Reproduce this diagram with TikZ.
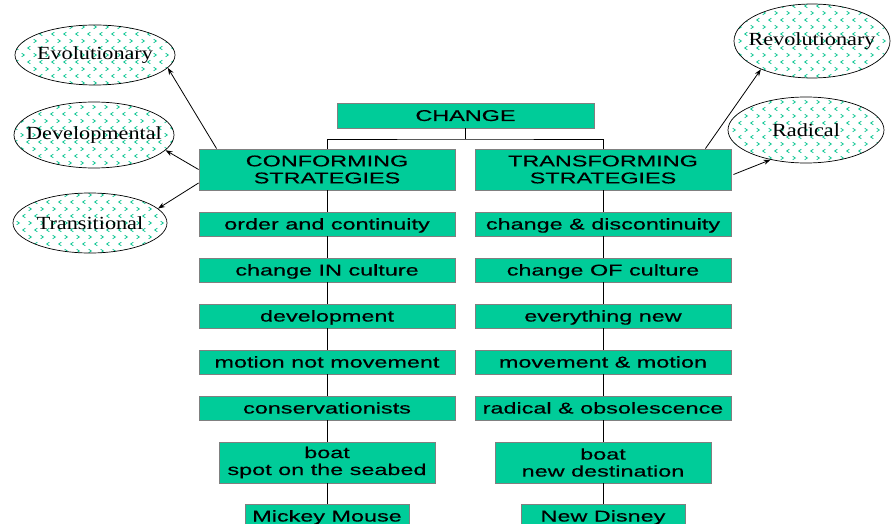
\documentclass[tikz,border=0pt]{standalone}
\usepackage{fontspec}
\usetikzlibrary{shapes.geometric,arrows.meta,calc}
\newfontfamily\boxfont[FakeStretch=1.5,FakeBold=0.3]{Liberation Sans}
\newfontfamily\ellfont[FakeStretch=1.2]{Liberation Serif}
\definecolor{boxgreen}{RGB}{0,204,153}
\definecolor{boxborder}{RGB}{128,128,128}
\definecolor{chev}{RGB}{20,200,150}
\tikzset{
  box/.style={draw=boxborder, line width=0.9pt, fill=boxgreen, inner sep=0pt, align=center,
    font=\boxfont\fontsize{15.6}{17}\selectfont},
  oneline/.style={box, text height=11pt, text depth=0pt},
  wide/.style={oneline, minimum width=256pt, minimum height=24pt},
  twoline/.style={box, minimum height=41pt},
  conn/.style={draw=black, line width=0.8pt},
  arr/.style={draw=black, line width=0.8pt, -{Stealth[length=7pt,width=5pt]}},
  ell/.style={ellipse, draw=black, line width=0.7pt, fill=white, inner sep=0pt,
    font=\ellfont\fontsize{18.5}{20}\selectfont,
    path picture={
      \foreach \j in {-7,...,7}{
        \pgfmathtruncatemacro{\sh}{mod(abs(\j),2)}
        \pgfmathsetmacro{\dr}{1-2*\sh}
        \foreach \i in {-8,...,8}{
          \draw[chev, line width=0.8pt]
            ($(path picture bounding box.center)+(\i*12+\sh*6-\dr*1.3,\j*7-1.8)$)
            -- ++(\dr*2.6,1.8) -- ++(-\dr*2.6,1.8);
        }
      }
    }}
}
\begin{document}
\begin{tikzpicture}[x=1pt,y=-1pt]
\useasboundingbox (0,0) rectangle (893,524);

% ellipses
\node[ell, minimum width=160pt, minimum height=60pt] (evo) at (95,55) {\makebox[0pt]{Evolutionary}};
\node[ell, minimum width=160pt, minimum height=66pt] (dev) at (94,135) {\makebox[0pt]{Developmental}};
\node[ell, minimum width=154pt, minimum height=60pt] (tra) at (90,223) {\makebox[0pt]{Transitional}};
\node[ell, minimum width=156pt, minimum height=74pt] (rev) at (812,41) {\makebox[0pt]{Revolutionary}};
\node[ell, minimum width=156pt, minimum height=66pt] (rad) at (806,130) {\makebox[0pt]{Radical}};

% boxes
\node[oneline, minimum width=257pt, minimum height=25pt] (change) at (465.5,115.5) {CHANGE};
\node[twoline, minimum width=256pt] (conf) at (327,169.5) {CONFORMING\\STRATEGIES};
\node[twoline, minimum width=256pt] (trans) at (603,169.5) {TRANSFORMING\\STRATEGIES};

\node[wide] (l1) at (327,224) {order and continuity};
\node[wide] (l2) at (327,270) {change IN culture};
\node[wide] (l3) at (327,316) {development};
\node[wide] (l4) at (327,362) {motion not movement};
\node[wide] (l5) at (327,408) {conservationists};
\node[twoline, minimum width=216pt] (l6) at (327,462.5) {boat\\spot on the seabed};
\node[oneline, minimum width=164pt, minimum height=24pt] (l7) at (327,516) {Mickey Mouse};

\node[wide] (r1) at (603,224) {change \& discontinuity};
\node[wide] (r2) at (603,270) {change OF culture};
\node[wide] (r3) at (603,316) {everything new};
\node[wide] (r4) at (603,362) {movement \& motion};
\node[wide] (r5) at (603,408) {radical \& obsolescence};
\node[twoline, minimum width=216pt] (r6) at (603,462.5) {boat\\new destination};
\node[oneline, minimum width=164pt, minimum height=24pt] (r7) at (603,516) {New Disney};

% tree connectors
\coordinate (bus) at (465.5,139);
\draw[conn] (change.south) -- (change.south |- bus);
\draw[conn] (conf.north) |- (bus) -| (trans.north);
\draw[conn] (conf.south) -- (l1.north);
\draw[conn] (trans.south) -- (r1.north);
\foreach \a/\b in {l1/l2,l2/l3,l3/l4,l4/l5,l5/l6,l6/l7,r1/r2,r2/r3,r3/r4,r4/r5,r5/r6,r6/r7}{
  \draw[conn] (\a.south) -- (\b.north);
}

% arrows to ellipses
\draw[arr] ($(conf.north west)+(18,0)$) -- (evo.-10);
\draw[arr] (conf.west) -- (dev.-12);
\draw[arr] ($(conf.west)+(0,13.5)$) -- (tra.12);
\draw[arr] ($(trans.north east)+(-26,0)$) -- (rev.209);
\draw[arr] ($(trans.east)+(2,5)$) -- (rad.220);
\end{tikzpicture}
\end{document}
